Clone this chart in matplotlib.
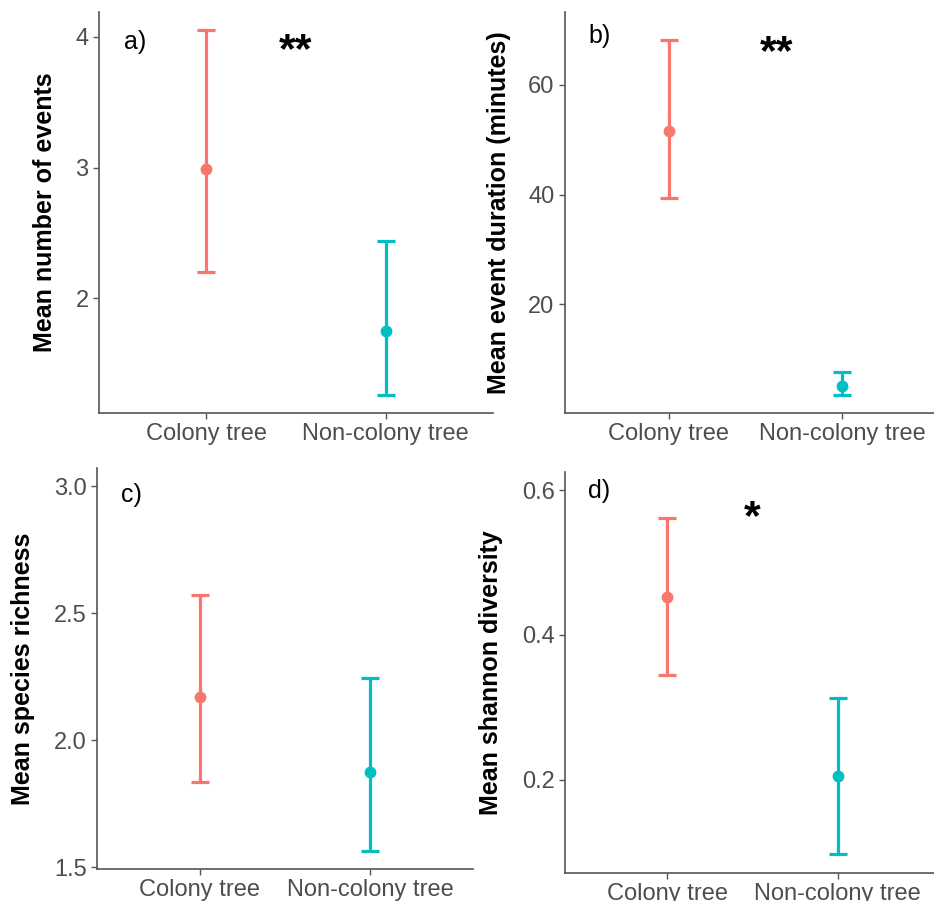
import matplotlib
matplotlib.use("Agg")
import matplotlib.pyplot as plt

plt.rcParams['font.family'] = ['Liberation Sans', 'DejaVu Sans']

categories = ["Colony tree", "Non-colony tree"]
colors = ["#F8766D", "#00BFC4"]

# panel a: mean number of events
a_mean = [2.99, 1.75]
a_lower = [2.20, 1.26]
a_upper = [4.05, 2.44]
# panel b: mean event duration (minutes)
b_mean = [51.6, 5.2]
b_lower = [39.4, 3.5]
b_upper = [68.2, 7.6]
# panel c: mean species richness
c_mean = [2.172, 1.876]
c_lower = [1.838, 1.566]
c_upper = [2.571, 2.246]
# panel d: mean shannon diversity
d_mean = [0.452, 0.205]
d_lower = [0.345, 0.097]
d_upper = [0.561, 0.313]

ylabels = ["Mean number of events", "Mean event duration (minutes)",
           "Mean species richness", "Mean shannon diversity"]
panel_tags = ["a)", "b)", "c)", "d)"]
sig_marks = ["**", "**", "", "*"]

W, H = 934, 901
fig = plt.figure(figsize=(W / 100, H / 100), dpi=100)

def px_axes(l, t, r, b):
    return fig.add_axes([l / W, 1 - b / H, (r - l) / W, (b - t) / H])

boxes = [(99, 12, 493, 413), (565, 12, 946, 413),
         (97, 468, 473, 869), (565, 472, 940, 873)]
ylims = [(1.123, 4.19), (0.2, 73.3), (1.494, 3.072), (0.0714, 0.625)]
yticks = [[2, 3, 4], [20, 40, 60], [1.5, 2.0, 2.5, 3.0], [0.2, 0.4, 0.6]]
yticklabels = [["2", "3", "4"], ["20", "40", "60"],
               ["1.5", "2.0", "2.5", "3.0"], ["0.2", "0.4", "0.6"]]
tag_y = [3.96, 68.9, 2.965, 0.599]
sig_pos = [(1.5, 3.89), (1.62, 65.8), None, (1.5, 0.562)]
ylabel_x = [45, 499, 23, 491]

data = [(a_mean, a_lower, a_upper), (b_mean, b_lower, b_upper),
        (c_mean, c_lower, c_upper), (d_mean, d_lower, d_upper)]

axis_col = "#4D4D4D"
for i, (box, (m, lo, up)) in enumerate(zip(boxes, data)):
    ax = px_axes(*box)
    for j in range(2):
        x = j + 1
        ax.errorbar([x], [m[j]], yerr=[[m[j] - lo[j]], [up[j] - m[j]]],
                    fmt='o', color=colors[j], ms=7.5, elinewidth=2.3,
                    capsize=6.2, capthick=2.3, zorder=3)
    ax.set_xlim(0.4, 2.6)
    ax.set_ylim(*ylims[i])
    ax.set_xticks([1, 2])
    ax.set_xticklabels(categories)
    ax.set_yticks(yticks[i])
    ax.set_yticklabels(yticklabels[i])
    for s in ["top", "right"]:
        ax.spines[s].set_visible(False)
    for s in ["left", "bottom"]:
        ax.spines[s].set_color("#555555")
        ax.spines[s].set_linewidth(1.2)
    ax.tick_params(axis='both', colors="#555555", length=4, width=1.0,
                   labelsize=17, labelcolor=axis_col, pad=3.5)
    ax.set_ylabel(ylabels[i], fontsize=18, fontweight='bold', color='black')
    ax.yaxis.label.set_va('center')
    l, t, r, b = box
    ax.yaxis.set_label_coords((ylabel_x[i] - l) / (r - l), 0.5)
    ax.text(0.6, tag_y[i], panel_tags[i], fontsize=18, color='black',
            ha='center', va='center')
    if sig_pos[i] is not None:
        ax.text(sig_pos[i][0], sig_pos[i][1], sig_marks[i], fontsize=31,
                fontweight='bold', color='black', ha='center', va='center')

fig.savefig("out.png", dpi=100, facecolor='white')
